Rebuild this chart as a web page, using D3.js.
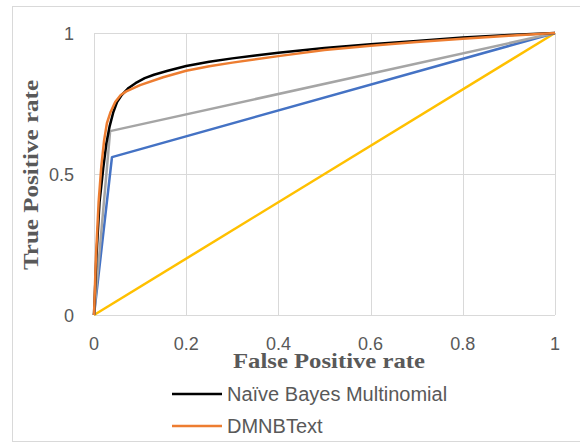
<!DOCTYPE html>
<html>
<head>
<meta charset="utf-8">
<script src="https://cdn.jsdelivr.net/npm/d3@7"></script>
<style>
  body { margin: 0; background: #fff; }
  svg { display: block; }
</style>
</head>
<body>
<script>
// tick values
const xTicks = [0, 0.2, 0.4, 0.6, 0.8, 1];
const yTicks = [0, 0.5, 1];

// ROC points, [fpr, tpr]
const nbmPoints = [[0,0],[0.005,0.2],[0.012,0.4],[0.02,0.52],[0.027,0.61],[0.034,0.67],[0.042,0.72],[0.05,0.755],[0.06,0.78],[0.075,0.805],[0.09,0.822],[0.11,0.84],[0.13,0.852],[0.16,0.866],[0.2,0.883],[0.25,0.898],[0.3,0.91],[0.35,0.92],[0.4,0.93],[0.5,0.947],[0.6,0.96],[0.7,0.972],[0.8,0.984],[0.9,0.993],[1,1]];
const dmnbPoints = [[0,0],[0.004,0.2],[0.01,0.4],[0.016,0.53],[0.022,0.62],[0.028,0.68],[0.036,0.72],[0.046,0.755],[0.058,0.78],[0.07,0.793],[0.1,0.815],[0.15,0.843],[0.2,0.866],[0.25,0.882],[0.3,0.895],[0.4,0.918],[0.5,0.94],[0.6,0.955],[0.7,0.968],[0.8,0.98],[0.9,0.99],[1,1]];
const grayPoints = [[0,0],[0.035,0.652],[1,1]];
const bluePoints = [[0,0],[0.039,0.56],[1,1]];
const yellowPoints = [[0,0],[1,1]];

const seriesNames = ["Naïve Bayes Multinomial", "DMNBText"];

const width = 580, height = 443;
const margin = {left: 94, right: 25, top: 33, bottom: 128};

const svg = d3.select("body").append("svg")
  .attr("width", width)
  .attr("height", height);

// chart border
svg.append("rect")
  .attr("x", 12.5).attr("y", 6.5)
  .attr("width", 600).attr("height", 435)
  .attr("fill", "none")
  .attr("stroke", "#d9d9d9");

const x = d3.scaleLinear().domain([0, 1]).range([margin.left, width - margin.right]);
const y = d3.scaleLinear().domain([0, 1]).range([height - margin.bottom, margin.top]);

// gridlines
svg.append("g").selectAll("line")
  .data(xTicks)
  .enter().append("line")
  .attr("x1", d => Math.round(x(d)) + 0.5).attr("x2", d => Math.round(x(d)) + 0.5)
  .attr("y1", y(0)).attr("y2", y(1))
  .attr("stroke", "#d9d9d9");

svg.append("g").selectAll("line")
  .data(yTicks)
  .enter().append("line")
  .attr("y1", d => Math.round(y(d)) + 0.5).attr("y2", d => Math.round(y(d)) + 0.5)
  .attr("x1", x(0)).attr("x2", x(1))
  .attr("stroke", "#d9d9d9");

// tick labels
svg.append("g").selectAll("text")
  .data(xTicks)
  .enter().append("text")
  .attr("x", d => x(d))
  .attr("y", y(0) + 35)
  .attr("text-anchor", "middle")
  .attr("font-family", "Liberation Sans, Arial, sans-serif")
  .attr("font-size", 18)
  .attr("fill", "#595959")
  .text(d => d);

svg.append("g").selectAll("text")
  .data(yTicks)
  .enter().append("text")
  .attr("x", x(0) - 20)
  .attr("y", d => y(d) + 7)
  .attr("text-anchor", "end")
  .attr("font-family", "Liberation Sans, Arial, sans-serif")
  .attr("font-size", 18)
  .attr("fill", "#595959")
  .text(d => d);

// axis titles
svg.append("text")
  .attr("x", 233).attr("y", 368)
  .attr("textLength", 192)
  .attr("lengthAdjust", "spacingAndGlyphs")
  .attr("font-family", "Liberation Serif, 'Times New Roman', serif")
  .attr("font-weight", "bold")
  .attr("font-size", 21)
  .attr("fill", "#595959")
  .text("False Positive rate");

svg.append("text")
  .attr("transform", "translate(38,270) rotate(-90)")
  .attr("textLength", 190)
  .attr("lengthAdjust", "spacingAndGlyphs")
  .attr("font-family", "Liberation Serif, 'Times New Roman', serif")
  .attr("font-weight", "bold")
  .attr("font-size", 21)
  .attr("fill", "#595959")
  .text("True Positive rate");

// curves
const line = d3.line().x(d => x(d[0])).y(d => y(d[1]));

const curves = [
  {pts: yellowPoints, color: "#ffc000"},
  {pts: bluePoints, color: "#4472c4"},
  {pts: grayPoints, color: "#a5a5a5"},
  {pts: nbmPoints, color: "#000000"},
  {pts: dmnbPoints, color: "#ed7d31"}
];

svg.append("g").selectAll("path")
  .data(curves)
  .enter().append("path")
  .attr("d", d => line(d.pts))
  .attr("fill", "none")
  .attr("stroke", d => d.color)
  .attr("stroke-width", 2.5)
  .attr("stroke-linejoin", "round");

// legend
const legend = svg.append("g").selectAll("g")
  .data(seriesNames)
  .enter().append("g")
  .attr("transform", (d, i) => "translate(172," + (394 + i * 32) + ")");

legend.append("line")
  .attr("x1", 0).attr("x2", 50)
  .attr("stroke", (d, i) => i === 0 ? "#000000" : "#ed7d31")
  .attr("stroke-width", 2.5);

legend.append("text")
  .attr("x", 55).attr("y", 7)
  .attr("font-family", "Liberation Sans, Arial, sans-serif")
  .attr("font-size", 20)
  .attr("fill", "#595959")
  .text(d => d);
</script>
</body>
</html>
